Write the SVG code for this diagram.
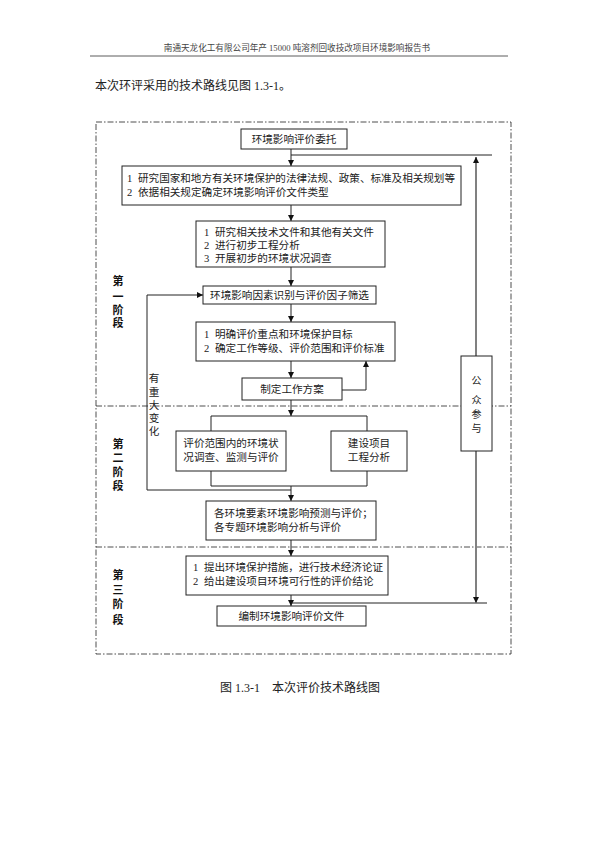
<svg xmlns="http://www.w3.org/2000/svg" width="595" height="841" viewBox="0 0 595 841">
<defs>
<style>
text{font-family:"Liberation Serif","Noto Sans CJK SC",serif;fill:#222;}
.t{font-size:10.6px;dominant-baseline:central;}
.c{text-anchor:middle;}
.stage{font-size:11px;font-weight:bold;text-anchor:middle;dominant-baseline:central;fill:#111;}
.box{fill:#fff;stroke:#222;stroke-width:1;}
.ln{fill:none;stroke:#222;stroke-width:1;}
.gray{fill:none;stroke:#808080;stroke-width:2;}
.dash{fill:none;stroke:#222;stroke-width:0.8;stroke-dasharray:6 2 1.5 2;}
</style>
<marker id="ah" markerWidth="6" markerHeight="6" refX="6" refY="3" orient="auto" markerUnits="userSpaceOnUse">
<path d="M0,0 L6,3 L0,6 Z" fill="#111"/>
</marker>
</defs>
<rect width="595" height="841" fill="#fff"/>

<text x="297" y="51" style="font-size:8.6px;text-anchor:middle;fill:#444">南通天龙化工有限公司年产 15000 吨溶剂回收技改项目环境影响报告书</text>
<line x1="90" y1="56" x2="508" y2="56" stroke="#333" stroke-width="0.8"/>
<text x="95" y="90" style="font-size:12px">本次环评采用的技术路线见图 1.3-1。</text>

<g id="frame">
<rect class="dash" x="96" y="122" width="415" height="532"/>
<line class="dash" x1="96" y1="406" x2="511" y2="406"/>
<line class="dash" x1="96" y1="547" x2="511" y2="547"/>
</g>

<g id="connectors">
<line class="ln" x1="291" y1="149" x2="291" y2="166" marker-end="url(#ah)"/>
<line class="ln" x1="291" y1="155" x2="492" y2="155"/>
<line class="gray" x1="476" y1="356" x2="476" y2="157" marker-end="url(#ah)"/>
<line class="ln" x1="291" y1="205" x2="291" y2="221" marker-end="url(#ah)"/>
<line class="ln" x1="291" y1="267" x2="291" y2="286" marker-end="url(#ah)"/>
<line class="ln" x1="291" y1="304" x2="291" y2="322" marker-end="url(#ah)"/>
<line class="ln" x1="291" y1="361" x2="291" y2="378" marker-end="url(#ah)"/>
<path class="ln" d="M342,390 H366 V361" marker-end="url(#ah)"/>
<line class="ln" x1="291" y1="400" x2="291" y2="416" marker-end="url(#ah)"/>
<path class="ln" d="M211,431 V416 H367 V431"/>
<path class="ln" d="M211,471 V486 H367 V471"/>
<line class="ln" x1="291" y1="486" x2="291" y2="501" marker-end="url(#ah)"/>
<path class="ln" d="M291,490 H147 V295 H203" marker-end="url(#ah)"/>
<line class="ln" x1="291" y1="540" x2="291" y2="556" marker-end="url(#ah)"/>
<line class="ln" x1="291" y1="595" x2="291" y2="606" marker-end="url(#ah)"/>
<line class="ln" x1="291" y1="603" x2="487" y2="603"/>
<line class="gray" x1="476" y1="451" x2="476" y2="603" marker-end="url(#ah)"/>
</g>

<g id="n1">
<rect class="box" x="241" y="129" width="106" height="20"/>
<text class="t c" x="294" y="139">环境影响评价委托</text>
</g>
<g id="n2">
<rect class="box" x="122" y="166" width="339" height="39"/>
<text class="t" x="127" y="178">1<tspan x="138" textLength="317" lengthAdjust="spacing">研究国家和地方有关环境保护的法律法规、政策、标准及相关规划等</tspan></text>
<text class="t" x="127" y="192">2<tspan x="138">依据相关规定确定环境影响评价文件类型</tspan></text>
</g>
<g id="n3">
<rect class="box" x="196" y="221" width="189" height="46"/>
<text class="t" x="204" y="232">1<tspan x="215">研究相关技术文件和其他有关文件</tspan></text>
<text class="t" x="204" y="245">2<tspan x="215">进行初步工程分析</tspan></text>
<text class="t" x="204" y="258">3<tspan x="215">开展初步的环境状况调查</tspan></text>
</g>
<g id="n4">
<rect class="box" x="203" y="286" width="173" height="18"/>
<text class="t c" x="289.5" y="295">环境影响因素识别与评价因子筛选</text>
</g>
<g id="n5">
<rect class="box" x="196" y="322" width="199" height="39"/>
<text class="t" x="204" y="334">1<tspan x="215">明确评价重点和环境保护目标</tspan></text>
<text class="t" x="204" y="348">2<tspan x="215">确定工作等级、评价范围和评价标准</tspan></text>
</g>
<g id="n6">
<rect class="box" x="242" y="378" width="100" height="22"/>
<text class="t c" x="292" y="389">制定工作方案</text>
</g>
<g id="n7">
<rect class="box" x="176" y="431" width="110" height="40"/>
<text class="t c" x="231" y="443">评价范围内的环境状</text>
<text class="t c" x="231" y="457">况调查、监测与评价</text>
</g>
<g id="n8">
<rect class="box" x="331" y="431" width="76" height="40"/>
<text class="t c" x="369" y="443">建设项目</text>
<text class="t c" x="369" y="457">工程分析</text>
</g>
<g id="n9">
<rect class="box" x="206" y="501" width="170" height="39"/>
<text class="t" x="214" y="513">各环境要素环境影响预测与评价；</text>
<text class="t" x="214" y="527">各专题环境影响分析与评价</text>
</g>
<g id="n10">
<rect class="box" x="186" y="556" width="202" height="39"/>
<text class="t" x="193" y="567">1<tspan x="204" textLength="179" lengthAdjust="spacing">提出环境保护措施，进行技术经济论证</tspan></text>
<text class="t" x="193" y="581">2<tspan x="204">给出建设项目环境可行性的评价结论</tspan></text>
</g>
<g id="n11">
<rect class="box" x="217" y="606" width="149" height="20"/>
<text class="t c" x="291.5" y="616">编制环境影响评价文件</text>
</g>
<g id="n12">
<rect class="box" x="461" y="356" width="31" height="95"/>
<text class="t c" x="476.5" y="380" style="font-size:10px">公</text>
<text class="t c" x="476.5" y="400" style="font-size:10px">众</text>
<text class="t c" x="476.5" y="414" style="font-size:10px">参</text>
<text class="t c" x="476.5" y="428" style="font-size:10px">与</text>
</g>

<g id="labels">
<text class="stage" x="118" y="281">第</text>
<text class="stage" x="118" y="297">一</text>
<text class="stage" x="118" y="310">阶</text>
<text class="stage" x="118" y="323">段</text>
<text class="stage" x="118" y="444">第</text>
<text class="stage" x="118" y="458">二</text>
<text class="stage" x="118" y="472">阶</text>
<text class="stage" x="118" y="486">段</text>
<text class="stage" x="118" y="575">第</text>
<text class="stage" x="118" y="590">三</text>
<text class="stage" x="118" y="604">阶</text>
<text class="stage" x="118" y="620">段</text>
<text class="t c" x="154" y="378">有</text>
<text class="t c" x="154" y="392">重</text>
<text class="t c" x="154" y="405">大</text>
<text class="t c" x="154" y="418">变</text>
<text class="t c" x="154" y="431">化</text>
</g>

<text x="300" y="692" style="font-size:12px;text-anchor:middle">图 1.3-1　本次评价技术路线图</text>
</svg>
